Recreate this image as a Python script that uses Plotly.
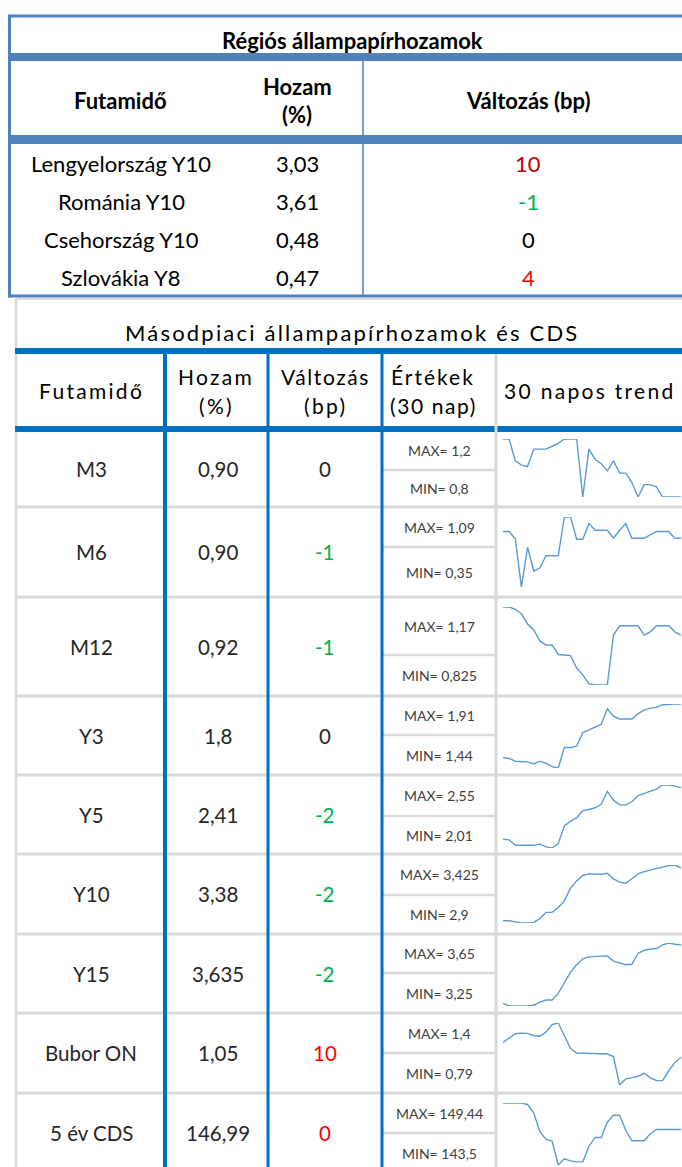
import plotly.graph_objects as go

W, H = 682, 1167

# ---------------- data ----------------
region_title = "Régiós állampapírhozamok"
region_headers = ["Futamidő", "Hozam", "(%)", "Változás (bp)"]
region_names = ["Lengyelország Y10", "Románia Y10", "Csehország Y10", "Szlovákia Y8"]
region_yields = ["3,03", "3,61", "0,48", "0,47"]
region_changes = [10, -1, 0, 4]

sec_title = "Másodpiaci állampapírhozamok és CDS"
sec_headers = ["Futamidő", "Hozam", "(%)", "Változás", "(bp)", "Értékek", "(30 nap)", "30 napos trend"]
sec_names = ["M3", "M6", "M12", "Y3", "Y5", "Y10", "Y15", "Bubor ON", "5 év CDS"]
sec_yields = ["0,90", "0,90", "0,92", "1,8", "2,41", "3,38", "3,635", "1,05", "146,99"]
sec_changes = [0, -1, -1, 0, -2, -2, -2, 10, 0]
sec_max = ["1,2", "1,09", "1,17", "1,91", "2,55", "3,425", "3,65", "1,4", "149,44"]
sec_min = ["0,8", "0,35", "0,825", "1,44", "2,01", "2,9", "3,25", "0,79", "143,5"]

trend_m3 = [1.2, 1.2, 1.05, 1.02, 1.01, 1.13, 1.13, 1.13, 1.15, 1.17, 1.2, 1.2, 1.2, 0.8, 1.13,
            1.06, 1.03, 0.98, 1.05, 0.965, 0.965, 0.9, 0.8, 0.885, 0.885, 0.87, 0.8, 0.8, 0.8, 0.8]
trend_m6 = [0.937, 0.937, 0.86, 0.35, 0.77, 0.52, 0.55, 0.68, 0.68, 0.68, 1.09, 1.09, 0.855, 0.855, 1.02,
            0.95, 0.95, 0.95, 0.866, 0.95, 1.02, 0.866, 0.866, 0.866, 0.9, 0.937, 0.937, 0.937, 0.866, 0.866]
trend_m12 = [1.17, 1.17, 1.16, 1.14, 1.095, 1.07, 1.02, 1.002, 1.002, 0.96, 0.958, 0.955, 0.9, 0.87, 0.83,
             0.825, 0.825, 0.825, 1.046, 1.087, 1.087, 1.087, 1.087, 1.046, 1.06, 1.087, 1.087, 1.087, 1.06, 1.046]
trend_y3 = [1.517, 1.51, 1.49, 1.488, 1.485, 1.47, 1.49, 1.475, 1.45, 1.44, 1.59, 1.59, 1.6, 1.7, 1.72,
            1.735, 1.76, 1.875, 1.82, 1.8, 1.8, 1.8, 1.84, 1.865, 1.88, 1.885, 1.905, 1.91, 1.91, 1.91]
trend_y5 = [2.085, 2.08, 2.033, 2.033, 2.033, 2.033, 2.045, 2.02, 2.01, 2.047, 2.2, 2.24, 2.27, 2.33, 2.34,
            2.355, 2.385, 2.495, 2.42, 2.38, 2.38, 2.406, 2.46, 2.48, 2.5, 2.515, 2.55, 2.55, 2.54, 2.527]
trend_y10 = [2.921, 2.92, 2.91, 2.9, 2.9, 2.905, 2.94, 2.996, 2.996, 3.04, 3.1, 3.215, 3.281, 3.33, 3.345,
             3.341, 3.341, 3.35, 3.3, 3.27, 3.26, 3.3, 3.345, 3.365, 3.38, 3.395, 3.41, 3.42, 3.425, 3.4]
trend_y15 = [3.267, 3.25, 3.25, 3.25, 3.25, 3.255, 3.275, 3.288, 3.288, 3.33, 3.4, 3.465, 3.512, 3.55, 3.562,
             3.563, 3.565, 3.568, 3.535, 3.522, 3.512, 3.515, 3.585, 3.603, 3.612, 3.615, 3.638, 3.65, 3.642, 3.639]
trend_bubor = [1.209, 1.252, 1.294, 1.30, 1.298, 1.275, 1.27, 1.31, 1.385, 1.4, 1.27, 1.15, 1.105, 1.103, 1.103,
               1.102, 1.1, 1.095, 1.07, 0.79, 0.85, 0.86, 0.875, 0.905, 0.86, 0.835, 0.833, 0.93, 1.01, 1.064]
trend_cds = [149.44, 149.44, 149.44, 149.44, 149.3, 148.5, 146.7, 145.95, 145.8, 143.5, 144.1, 143.9, 143.8, 143.8, 145.3,
             146.14, 146.14, 147.6, 148.26, 148.26, 146.8, 145.82, 145.82, 145.82, 146.5, 146.9, 146.9, 146.9, 146.9, 146.9]
trends = [trend_m3, trend_m6, trend_m12, trend_y3, trend_y5, trend_y10, trend_y15, trend_bubor, trend_cds]

# ---------------- styles / layout ----------------
BLUE1 = "#4F81BD"
BLUE2 = "#0070C0"
GRAY = "#D9D9D9"
SPARK = "#5B9BD5"
GREEN = "#00B050"
TXT = "#262626"
CAL = "Lato, Carlito, Calibri, sans-serif"

region_change_colors = ["#C00000", GREEN, "#000000", "#FF0000"]
sec_change_colors = [TXT, GREEN, GREEN, TXT, GREEN, GREEN, GREEN, "#FF0000", "#FF0000"]

row_bounds = [431, 507, 597, 696, 775, 854, 934, 1013, 1093, 1173]
split_y = [470, 547, 655, 735, 816, 895, 973, 1053, 1133]
spark_px = [(439, 497), (517, 587), (607, 685), (704, 768), (785, 848),
            (865, 923), (943, 1006), (1023, 1085), (1103, 1165)]
SPARK_X0, SPARK_X1 = 503, 681

fig = go.Figure()
fig.add_trace(go.Scatter(x=[None], y=[None], mode="markers", showlegend=False,
                         hoverinfo="skip", xaxis="x", yaxis="y"))

shapes = []
annots = []


def line(x0, y0, x1, y1, color, width):
    shapes.append(dict(type="line", xref="x", yref="y", x0=x0, y0=y0, x1=x1, y1=y1,
                       line=dict(color=color, width=width), layer="above"))


def rect(x0, y0, x1, y1, color):
    shapes.append(dict(type="rect", xref="x", yref="y", x0=x0, y0=y0, x1=x1, y1=y1,
                       line=dict(width=0), fillcolor=color, layer="above"))


def text(x, y, s, size, color="#000000", bold=False, spacing=None):
    if spacing:
        s = f'<span style="letter-spacing:{spacing}px">' + s + "</span>"
    if bold:
        s = "<b>" + s + "</b>"
    annots.append(dict(xref="x", yref="y", x=x, y=y, text=s, showarrow=False,
                       xanchor="center", yanchor="middle",
                       font=dict(family=CAL, size=size, color=color)))


# ----- top table -----
line(9.5, 16, 690, 16, BLUE1, 3)
line(9.5, 14.5, 9.5, 297.5, BLUE1, 3)
line(8, 296, 690, 296, BLUE1, 3)
rect(8, 53, 690, 61, BLUE1)
rect(8, 135, 690, 144, BLUE1)
line(363, 61, 363, 296, BLUE1, 1.5)

text(352, 40, region_title, 22, bold=True)
text(120, 100, region_headers[0], 22, bold=True)
text(297, 86, region_headers[1], 22, bold=True)
text(297, 114, region_headers[2], 22, bold=True)
text(528, 100, region_headers[3], 22, bold=True)
row_y_top = [163, 201, 239, 277]
for i in range(len(region_names)):
    text(121, row_y_top[i], region_names[i], 22)
    text(297, row_y_top[i], region_yields[i], 22)
    text(528, row_y_top[i], str(region_changes[i]), 22, color=region_change_colors[i])

# ----- second table -----
line(16, 298, 16, H + 5, GRAY, 2.5)
line(16, 299, 690, 299, GRAY, 2)
line(15, 351, 690, 351, BLUE2, 6)
line(15, 429, 690, 429, BLUE2, 6)
for yb in row_bounds[1:-1]:
    line(17, yb, 690, yb, GRAY, 3)
for ys in split_y:
    line(383, ys, 495, ys, GRAY, 2.5)
line(496, 354, 496, H + 5, GRAY, 3)
line(165, 354, 165, H + 5, BLUE2, 4)
line(268, 354, 268, H + 5, BLUE2, 3)
line(382, 354, 382, H + 5, BLUE2, 3)

text(352, 332, sec_title, 22, spacing=2.2)
text(91, 390, sec_headers[0], 21, spacing=2.3)
text(216, 376, sec_headers[1], 21, spacing=2.3)
text(216, 405, sec_headers[2], 21, spacing=2.3)
text(325, 376, sec_headers[3], 21, spacing=1.6)
text(325, 405, sec_headers[4], 21, spacing=2.3)
text(433, 376, sec_headers[5], 21, spacing=2.0)
text(433, 405, sec_headers[6], 21, spacing=1.6)
text(590, 390, sec_headers[7], 21, spacing=2.3)

for i in range(len(sec_names)):
    top, bot = row_bounds[i], row_bounds[i + 1]
    cy = (top + bot) / 2
    text(91, cy, sec_names[i], 20.5, color=TXT)
    text(218, cy, sec_yields[i], 20.5, color=TXT)
    text(325, cy, str(sec_changes[i]), 20.5, color=sec_change_colors[i])
    text(439, (top + split_y[i]) / 2, "MAX= " + sec_max[i], 14, color="#404040")
    text(439, (split_y[i] + bot) / 2, "MIN= " + sec_min[i], 14, color="#404040")

layout_axes = dict(
    xaxis=dict(domain=[0, 1], range=[0, W], visible=False, fixedrange=True),
    yaxis=dict(domain=[0, 1], range=[H, 0], visible=False, fixedrange=True),
)

for i, series in enumerate(trends):
    k = i + 2
    t_px, b_px = spark_px[i]
    fig.add_trace(go.Scatter(
        x=list(range(len(series))), y=series, mode="lines",
        line=dict(color=SPARK, width=1.4), showlegend=False, hoverinfo="skip",
        xaxis=f"x{k}", yaxis=f"y{k}", cliponaxis=False))
    layout_axes[f"xaxis{k}"] = dict(domain=[SPARK_X0 / W, SPARK_X1 / W],
                                     range=[0, len(series) - 1], visible=False,
                                     fixedrange=True, anchor=f"y{k}")
    layout_axes[f"yaxis{k}"] = dict(domain=[1 - b_px / H, 1 - t_px / H],
                                     range=[min(series), max(series)], visible=False,
                                     fixedrange=True, anchor=f"x{k}")

fig.update_layout(
    width=W, height=H,
    margin=dict(l=0, r=0, t=0, b=0),
    paper_bgcolor="white", plot_bgcolor="white",
    shapes=shapes, annotations=annots,
    showlegend=False,
    **layout_axes,
)

fig.write_html(
    "out.html",
    config={"displayModeBar": False},
    post_script="document.body.style.margin='0';document.body.style.overflow='hidden';"
                "document.documentElement.style.overflow='hidden';",
)
